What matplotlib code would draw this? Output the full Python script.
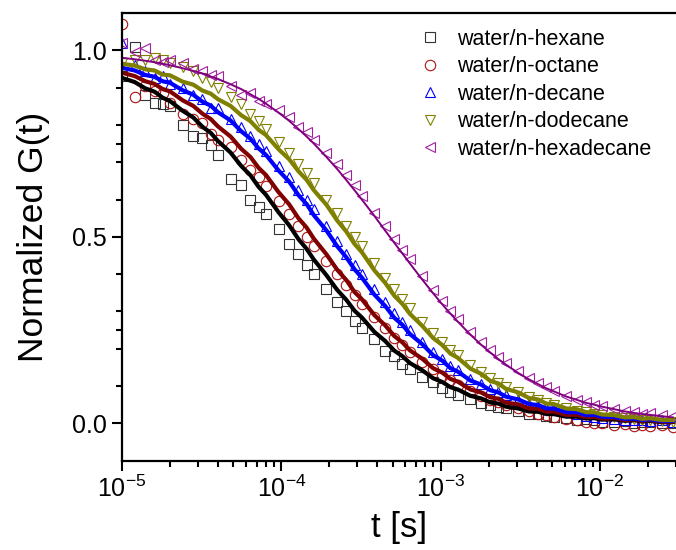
import numpy as np
import matplotlib
matplotlib.use('Agg')
import matplotlib.pyplot as plt
from matplotlib.ticker import LogLocator, FixedLocator, NullFormatter

plt.rcParams['font.family'] = ['Liberation Sans', 'DejaVu Sans']

# lag times (s), quasi-log multi-tau spacing
t = [1.0e-5, 1.2e-5, 1.4e-5, 1.6e-5, 1.8e-5, 2.0e-5, 2.4e-5, 2.8e-5, 3.2e-5, 3.6e-5,
     4.0e-5, 4.8e-5, 5.6e-5, 6.4e-5, 7.2e-5, 8.0e-5, 9.6e-5, 1.12e-4, 1.28e-4, 1.44e-4,
     1.6e-4, 1.92e-4, 2.24e-4, 2.56e-4, 2.88e-4, 3.2e-4, 3.84e-4, 4.48e-4, 5.12e-4, 5.76e-4,
     6.4e-4, 7.68e-4, 8.96e-4, 1.024e-3, 1.152e-3, 1.28e-3, 1.536e-3, 1.792e-3, 2.048e-3, 2.304e-3,
     2.56e-3, 3.072e-3, 3.584e-3, 4.096e-3, 4.608e-3, 5.12e-3, 6.144e-3, 7.168e-3, 8.192e-3, 9.216e-3,
     1.024e-2, 1.229e-2, 1.434e-2, 1.638e-2, 1.843e-2, 2.048e-2, 2.458e-2, 2.867e-2]

labels = ['water/n-hexane', 'water/n-octane', 'water/n-decane',
          'water/n-dodecane', 'water/n-hexadecane']

# measured points (open symbols)
hexane_pts = [0.930, 1.010, 0.880, 0.860, 0.855, 0.850, 0.800, 0.770, 0.765, 0.745,
              0.720, 0.655, 0.640, 0.600, 0.580, 0.560, 0.520, 0.480, 0.455, 0.425,
              0.400, 0.360, 0.325, 0.300, 0.275, 0.255, 0.225, 0.195, 0.180, 0.160,
              0.145, 0.125, 0.110, 0.095, 0.085, 0.075, 0.065, 0.055, 0.048, 0.045,
              0.040, 0.032, 0.026, 0.024, 0.020, 0.017, 0.015, 0.010, 0.012, 0.008,
              0.005, 0.004, 0.006, 0.002, 0.004, 0.003, 0.001, 0.002]
octane_pts = [1.070, 0.875, 0.905, 0.890, 0.885, 0.860, 0.830, 0.815, 0.805, 0.775,
              0.760, 0.740, 0.705, 0.680, 0.660, 0.635, 0.595, 0.560, 0.530, 0.500,
              0.475, 0.435, 0.400, 0.370, 0.345, 0.320, 0.285, 0.255, 0.230, 0.210,
              0.192, 0.165, 0.145, 0.128, 0.115, 0.104, 0.086, 0.074, 0.064, 0.056,
              0.050, 0.040, 0.032, 0.026, 0.022, 0.018, 0.012, 0.008, 0.004, 0.002,
              0.000, -0.004, -0.002, -0.006, -0.003, -0.008, -0.005, -0.010]
decane_pts = [1.020, 0.960, 0.945, 0.925, 0.930, 0.910, 0.900, 0.880, 0.870, 0.845,
              0.845, 0.815, 0.795, 0.770, 0.750, 0.730, 0.690, 0.660, 0.625, 0.600,
              0.575, 0.530, 0.490, 0.455, 0.425, 0.400, 0.360, 0.325, 0.295, 0.272,
              0.250, 0.218, 0.192, 0.172, 0.155, 0.142, 0.120, 0.105, 0.092, 0.083,
              0.075, 0.062, 0.053, 0.046, 0.040, 0.036, 0.030, 0.024, 0.020, 0.018,
              0.015, 0.012, 0.010, 0.008, 0.010, 0.006, 0.008, 0.004]
dodecane_pts = [0.965, 0.975, 0.975, 0.980, 0.975, 0.965, 0.955, 0.945, 0.925, 0.915,
                0.900, 0.875, 0.855, 0.830, 0.810, 0.790, 0.755, 0.725, 0.695, 0.670,
                0.645, 0.600, 0.565, 0.530, 0.500, 0.475, 0.430, 0.390, 0.360, 0.333,
                0.310, 0.272, 0.242, 0.218, 0.198, 0.182, 0.156, 0.137, 0.121, 0.108,
                0.098, 0.083, 0.071, 0.062, 0.055, 0.049, 0.041, 0.034, 0.030, 0.026,
                0.022, 0.018, 0.015, 0.012, 0.010, 0.009, 0.006, 0.005]
hexadecane_pts = [1.020, 0.995, 1.005, 0.975, 0.970, 0.975, 0.965, 0.950, 0.945, 0.935,
                  0.930, 0.905, 0.880, 0.885, 0.865, 0.855, 0.840, 0.820, 0.795, 0.780,
                  0.760, 0.725, 0.695, 0.665, 0.640, 0.610, 0.565, 0.530, 0.495, 0.465,
                  0.440, 0.395, 0.358, 0.328, 0.302, 0.280, 0.245, 0.218, 0.196, 0.178,
                  0.163, 0.140, 0.122, 0.108, 0.097, 0.088, 0.074, 0.064, 0.056, 0.050,
                  0.046, 0.038, 0.034, 0.030, 0.026, 0.028, 0.022, 0.020]

# fitted curves (thick lines)
hexane_fit = [0.926, 0.915, 0.898, 0.889, 0.873, 0.864, 0.838, 0.820, 0.795, 0.779,
              0.757, 0.726, 0.690, 0.665, 0.634, 0.613, 0.566, 0.531, 0.494, 0.468,
              0.439, 0.397, 0.358, 0.331, 0.302, 0.284, 0.245, 0.221, 0.195, 0.180,
              0.162, 0.142, 0.121, 0.111, 0.097, 0.091, 0.074, 0.067, 0.056, 0.053,
              0.045, 0.040, 0.032, 0.031, 0.025, 0.025, 0.018, 0.018, 0.013, 0.014,
              0.010, 0.011, 0.007, 0.009, 0.005, 0.007, 0.003, 0.004]
octane_fit = [0.940, 0.931, 0.917, 0.910, 0.896, 0.890, 0.866, 0.851, 0.830, 0.816,
              0.796, 0.769, 0.736, 0.714, 0.685, 0.666, 0.620, 0.587, 0.550, 0.525,
              0.495, 0.453, 0.412, 0.384, 0.352, 0.333, 0.290, 0.263, 0.234, 0.217,
              0.196, 0.173, 0.148, 0.136, 0.119, 0.112, 0.091, 0.083, 0.070, 0.066,
              0.056, 0.051, 0.040, 0.039, 0.031, 0.032, 0.023, 0.023, 0.017, 0.018,
              0.013, 0.014, 0.009, 0.011, 0.006, 0.009, 0.004, 0.005]
decane_fit = [0.953, 0.946, 0.934, 0.929, 0.917, 0.913, 0.893, 0.881, 0.862, 0.852,
              0.834, 0.812, 0.783, 0.763, 0.737, 0.720, 0.678, 0.648, 0.612, 0.588,
              0.558, 0.517, 0.475, 0.445, 0.413, 0.391, 0.345, 0.315, 0.283, 0.264,
              0.240, 0.212, 0.183, 0.168, 0.148, 0.139, 0.115, 0.104, 0.089, 0.083,
              0.072, 0.064, 0.052, 0.049, 0.040, 0.040, 0.030, 0.030, 0.022, 0.023,
              0.018, 0.017, 0.012, 0.013, 0.009, 0.011, 0.006, 0.007]
dodecane_fit = [0.964, 0.959, 0.949, 0.946, 0.935, 0.933, 0.916, 0.908, 0.892, 0.884,
                0.869, 0.851, 0.826, 0.810, 0.787, 0.773, 0.735, 0.708, 0.676, 0.653,
                0.625, 0.586, 0.544, 0.514, 0.481, 0.459, 0.410, 0.377, 0.342, 0.320,
                0.294, 0.261, 0.229, 0.210, 0.187, 0.176, 0.147, 0.133, 0.114, 0.107,
                0.093, 0.083, 0.068, 0.064, 0.053, 0.052, 0.040, 0.038, 0.030, 0.030,
                0.024, 0.022, 0.016, 0.017, 0.012, 0.014, 0.009, 0.009]
hexadecane_fit = [0.980, 0.976, 0.972, 0.968, 0.964, 0.960, 0.952, 0.945, 0.938, 0.930,
                  0.923, 0.909, 0.896, 0.882, 0.870, 0.857, 0.833, 0.811, 0.789, 0.769,
                  0.750, 0.714, 0.682, 0.652, 0.625, 0.600, 0.556, 0.517, 0.484, 0.455,
                  0.429, 0.385, 0.349, 0.319, 0.294, 0.273, 0.238, 0.211, 0.190, 0.172,
                  0.158, 0.135, 0.118, 0.105, 0.094, 0.086, 0.072, 0.063, 0.055, 0.050,
                  0.045, 0.038, 0.032, 0.028, 0.025, 0.023, 0.019, 0.016]

points = [hexane_pts, octane_pts, decane_pts, dodecane_pts, hexadecane_pts]
fits = [hexane_fit, octane_fit, decane_fit, dodecane_fit, hexadecane_fit]
markers = ['s', 'o', '^', 'v', '<']
mcolors = ['#333333', '#B01010', '#0000FF', '#808000', '#A020A0']
lcolors = ['#000000', '#800000', '#0000FF', '#808000', '#800080']
lwidths = [3.0, 3.0, 3.0, 3.0, 1.4]

fig = plt.figure(figsize=(6.76, 5.5), dpi=100)
ax = fig.add_axes([122 / 676, 1 - 460.7 / 550, 554 / 676, 447.7 / 550])

for pts, m, c, lab in zip(points, markers, mcolors, labels):
    ax.plot(t, pts, ls='none', marker=m, ms=7.5, mfc='none', mec=c, mew=0.8, label=lab)
for fit, c, lw in zip(fits, lcolors, lwidths):
    ax.plot(t, fit, color=c, lw=lw)

ax.set_xscale('log')
ax.set_xlim(1e-5, 3e-2)
ax.set_ylim(-0.1, 1.1)
ax.set_yticks([0.0, 0.5, 1.0])
ax.set_yticklabels(['0.0', '0.5', '1.0'])
ax.yaxis.set_minor_locator(FixedLocator([0.1, 0.2, 0.25, 0.3, 0.4, 0.6, 0.7, 0.75, 0.8, 0.9]))
ax.xaxis.set_major_locator(LogLocator(base=10, numticks=10))
ax.xaxis.set_minor_locator(LogLocator(base=10, subs=np.arange(2, 10), numticks=10))
ax.xaxis.set_minor_formatter(NullFormatter())

ax.spines['right'].set_visible(False)
for s in ['left', 'bottom', 'top']:
    ax.spines[s].set_linewidth(1.6)
ax.tick_params(which='major', direction='out', length=7, width=1.5, labelsize=18, pad=4)
ax.tick_params(which='minor', direction='out', length=4, width=1.5)
ax.tick_params(top=False, right=False)

ax.set_xlabel('t [s]', fontsize=25)
ax.set_ylabel('Normalized G(t)', fontsize=25.5)
ax.xaxis.set_label_coords(0.5, -0.113)
ax.yaxis.set_label_coords(-0.13, 0.5)

ax.legend(loc='upper left', bbox_to_anchor=(419 / 676, 1 - 29 / 550),
          bbox_transform=fig.transFigure, frameon=False,
          fontsize=15.5, handlelength=1.0, handletextpad=0.75, labelspacing=0.3,
          borderpad=0, borderaxespad=0)

fig.savefig('out.png', dpi=100)
